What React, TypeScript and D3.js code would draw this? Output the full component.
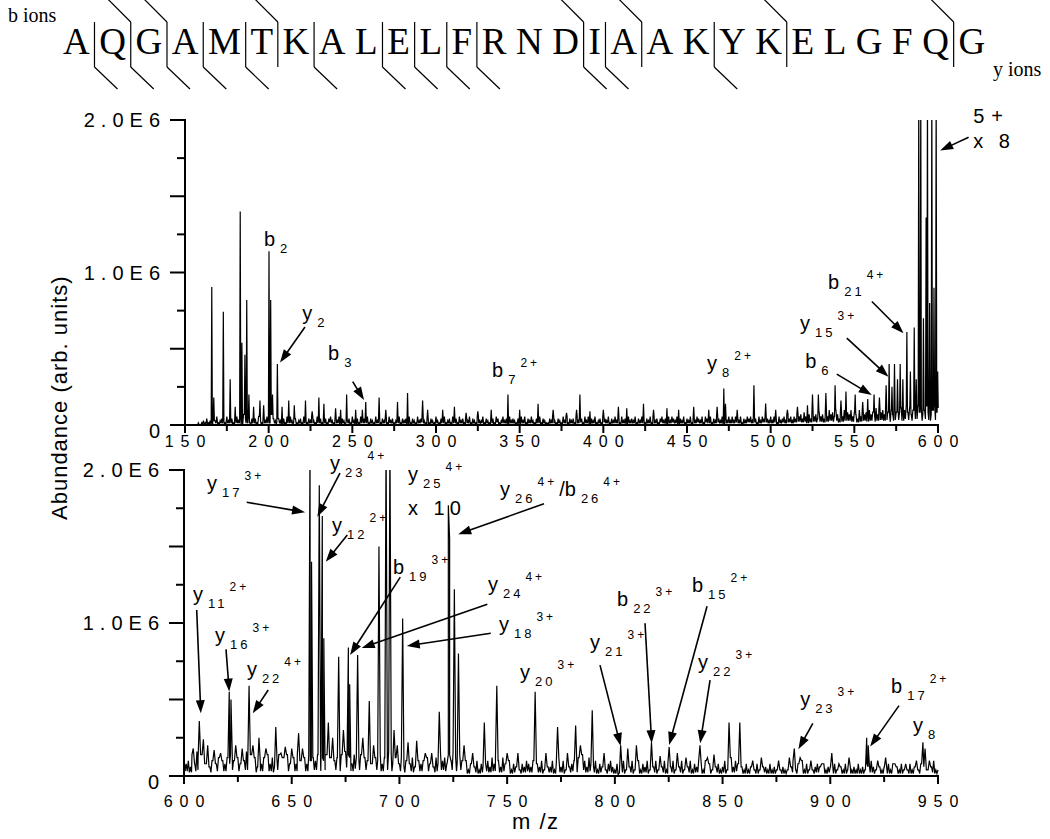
import * as d3 from 'd3';

const SANS = "'Liberation Sans', Arial, Helvetica, sans-serif";
const SERIF = "'Liberation Serif', 'Times New Roman', serif";

// ---- peptide and its fragment cleavages (gap after residue n, 1-based) ----
const sequence = 'AQGAMTKALELFRNDIAAKYKELGFQG'.split('');
const bCuts = [2, 3, 6, 15, 17, 21, 26];
const yCuts = [1, 2, 3, 4, 5, 7, 9, 10, 11, 12, 15, 16, 19];

// ---- axes (abundance in units of 1E6) ----
const abundanceTicks = [0, 0.25, 0.5, 0.75, 1.0, 1.25, 1.5, 1.75, 2.0];
const abundanceLabelled = [0, 1.0, 2.0];
const abundanceLabelText = ['0', '1.0E6', '2.0E6'];

const topMzTicks = [150, 175, 200, 225, 250, 275, 300, 325, 350, 375, 400, 425, 450, 475, 500, 525, 550, 575, 600];
const topMzLabels = [150, 200, 250, 300, 350, 400, 450, 500, 550, 600];
const bottomMzTicks = [600, 625, 650, 675, 700, 725, 750, 775, 800, 825, 850, 875, 900, 925, 950];
const bottomMzLabels = [600, 650, 700, 750, 800, 850, 900, 950];

// ---- spectrum, 150-600 (noise floor per m/z unit as digits, then peaks) ----
const topNoiseStart = 157;
const topNoiseUnit = 0.014;
const topNoise =
  '0101213121' + '3241232142' + '2312423153' + '2413231421' + '3242153213' +
  '2131424213' + '1231421324' + '2142312313' + '4213241321' + '2314213142' +
  '3241321423' + '1323142312' + '2413231413' + '2142342131' + '3214213241' +
  '2314231423' + '1324132142' + '2413212314' + '3124231423' + '2131424132' +
  '4213241321' + '1324213214' + '2413231423' + '3142413241' + '2314324132' +
  '4231423142' + '3241324213' + '2414231342' + '3142432413' + '2413241324' +
  '3241432413' + '2432413242' + '4243241324' + '3424314243' + '4324243142' +
  '3425342435' + '4536425364' + '5364536475' + '6475364756' + '5746537465' +
  '6475648576' + '7586475867' + '6857968578' + '7968579685' + '7968';

const topPeaks: [number, number][] = [
  [166, 0.905], [167.2, 0.18], [172.9, 0.743], [177, 0.3], [180, 0.12], [183, 1.4],
  [184, 0.54], [185.8, 0.46], [186.9, 0.82], [188.2, 0.2], [191, 0.12], [194.8, 0.16],
  [197, 0.13], [200.2, 1.14], [201.2, 0.82], [202.3, 0.2], [205.2, 0.4], [208, 0.12],
  [212, 0.16], [215.3, 0.13], [222, 0.16], [226, 0.09], [230, 0.18], [233, 0.14],
  [240, 0.11], [243, 0.1], [246.6, 0.2], [252, 0.1], [256, 0.1], [258, 0.15],
  [266, 0.18], [270, 0.1], [277, 0.15], [283, 0.21], [292, 0.16], [295, 0.1],
  [304, 0.1], [311, 0.12], [318, 0.08], [325, 0.09], [333, 0.1], [343, 0.2],
  [350, 0.1], [361, 0.14], [370, 0.1], [378, 0.08], [384, 0.1], [386, 0.2],
  [392, 0.09], [400, 0.1], [409, 0.12], [414, 0.11], [424, 0.14], [430, 0.1],
  [438, 0.11], [445, 0.1], [454, 0.12], [463, 0.1], [468, 0.12], [472, 0.24],
  [473, 0.14], [480, 0.1], [490, 0.26], [497, 0.14], [503, 0.1], [510, 0.1],
  [516, 0.12], [522, 0.13], [525, 0.2], [528.5, 0.2], [533, 0.21], [538.5, 0.26],
  [542, 0.16], [545, 0.22], [550.5, 0.2], [555, 0.15], [558, 0.17], [561.8, 0.2],
  [565, 0.18], [569, 0.26], [570.8, 0.4], [572.5, 0.25], [574, 0.4], [575.8, 0.3],
  [577.4, 0.4], [579, 0.3], [581.4, 0.61], [583.5, 0.35], [585.8, 0.64], [587, 0.3],
  [588.5, 2.2], [589.7, 2.2], [591.3, 0.7], [592.9, 1.36], [593.7, 2.2], [595, 0.8],
  [596.3, 2.2], [597.6, 0.9], [598.9, 2.2], [599.8, 0.35],
];

// ---- spectrum, 600-950 ----
const bottomNoiseStart = 600;
const bottomNoiseUnit = 0.02;
const bottomNoise =
  '6453748576' + '4635746354' + '6475364758' + '5746354637' + '4635746574' +
  '5647536475' + '6574657465' + '5647587647' + '6574658476' + '5746587465' +
  '4635746375' + '4536453647' + '5647586475' + '3524635243' + '4536475364' +
  '3524352435' + '4352435243' + '3524635243' + '4536475364' + '3524352453' +
  '2413524352' + '3524352435' + '2435243524' + '3524352435' + '4253425342' +
  '3524635463' + '2423524243' + '3242324232' + '2435243524' + '2323432423' +
  '3242432423' + '2324232435' + '3243232424' + '2324232423' + '3243524352' + '2';

const bottomPeaks: [number, number][] = [
  [604.3, 0.18], [607.1, 0.36], [609, 0.24], [611, 0.2], [614, 0.17], [617, 0.15],
  [621, 0.55], [621.8, 0.5], [624, 0.2], [627, 0.18], [630.2, 0.59], [632, 0.2],
  [634.8, 0.25], [638, 0.18], [642.6, 0.32], [645, 0.15], [647, 0.19], [650, 0.18],
  [653.2, 0.28], [655, 0.18], [658.5, 2.2], [659.2, 1.4], [662.8, 1.9], [664.2, 1.7],
  [664.9, 0.9], [667, 0.35], [669, 0.25], [671.8, 0.78], [674, 0.3], [676.3, 0.84],
  [676.9, 0.6], [680.6, 0.79], [683, 0.25], [686, 0.49], [688, 0.2], [690.5, 1.5],
  [693.8, 2.2], [695.6, 2.2], [697.5, 0.3], [699, 0.2], [701.5, 1.03], [704, 0.22],
  [708, 0.23], [712, 0.15], [715, 0.15], [718.5, 0.42], [722.7, 1.77], [723.3, 1.55],
  [725.5, 1.22], [727.4, 0.8], [730, 0.2], [734, 0.15], [739.4, 0.35], [745.2, 0.59],
  [750, 0.15], [755, 0.15], [763, 0.55], [768, 0.15], [773.4, 0.32], [778, 0.15],
  [781.8, 0.33], [784, 0.2], [789.5, 0.43], [795, 0.15], [802.7, 0.2], [806, 0.18],
  [810, 0.2], [817, 0.22], [821, 0.13], [825.2, 0.19], [829, 0.15], [833, 0.12],
  [839.5, 0.2], [843, 0.12], [846, 0.14], [853, 0.35], [858, 0.35], [864, 0.1],
  [868, 0.12], [876, 0.1], [881, 0.12], [883.3, 0.18], [886, 0.12], [891, 0.1],
  [896, 0.08], [900.7, 0.15], [904, 0.08], [908.7, 0.12], [916.9, 0.25], [917.6, 0.2],
  [922, 0.1], [925.7, 0.12], [930, 0.08], [935, 0.08], [940, 0.1], [943, 0.22],
  [944, 0.18], [946, 0.1],
];

// ---- annotations: [ion, subscript, superscript] parts, anchored at (m/z, abundance) ----
type IonLabel = { parts: string[][]; mz: number; v: number };
type Arrow = { from: [number, number]; to: [number, number] };
type Note = { text: string; mz: number; v: number };

const topIonLabels: IonLabel[] = [
  { parts: [['b', '2', '']], mz: 197.2, v: 1.174 },
  { parts: [['y', '2', '']], mz: 220, v: 0.69 },
  { parts: [['b', '3', '']], mz: 235.5, v: 0.426 },
  { parts: [['b', '7', '2+']], mz: 333.5, v: 0.315 },
  { parts: [['y', '8', '2+']], mz: 462, v: 0.36 },
  { parts: [['b', '6', '']], mz: 520.6, v: 0.374 },
  { parts: [['y', '15', '3+']], mz: 517.6, v: 0.623 },
  { parts: [['b', '21', '4+']], mz: 534.3, v: 0.892 },
];
const topArrows: Arrow[] = [
  { from: [221.7, 0.643], to: [206.8, 0.41] },
  { from: [250.2, 0.284], to: [257, 0.164] },
  { from: [539.5, 0.334], to: [560.4, 0.197] },
  { from: [545.5, 0.57], to: [570.4, 0.317] },
  { from: [560.5, 0.81], to: [579.4, 0.601] },
  { from: [618.3, 1.887], to: [601.3, 1.8] },
];
const topNotes: Note[] = [
  { text: '5+', mz: 621, v: 1.98 },
  { text: 'x 8', mz: 621, v: 1.816 },
];

const bottomIonLabels: IonLabel[] = [
  { parts: [['y', '17', '3+']], mz: 610.7, v: 1.87 },
  { parts: [['y', '23', '4+']], mz: 667.8, v: 2.0 },
  { parts: [['y', '12', '2+']], mz: 668.7, v: 1.595 },
  { parts: [['y', '11', '2+']], mz: 604.2, v: 1.144 },
  { parts: [['y', '16', '3+']], mz: 614.4, v: 0.876 },
  { parts: [['y', '22', '4+']], mz: 629.2, v: 0.654 },
  { parts: [['b', '19', '3+']], mz: 697, v: 1.32 },
  { parts: [['y', '24', '4+']], mz: 741.1, v: 1.209 },
  { parts: [['y', '18', '3+']], mz: 746.2, v: 0.948 },
  { parts: [['y', '25', '4+']], mz: 704, v: 1.928 },
  { parts: [['y', '26', '4+'], ['/b', '26', '4+']], mz: 746.7, v: 1.83 },
  { parts: [['y', '20', '3+']], mz: 756, v: 0.634 },
  { parts: [['y', '21', '3+']], mz: 788.5, v: 0.83 },
  { parts: [['b', '22', '3+']], mz: 801, v: 1.111 },
  { parts: [['b', '15', '2+']], mz: 835.8, v: 1.203 },
  { parts: [['y', '22', '3+']], mz: 838.6, v: 0.7 },
  { parts: [['y', '23', '3+']], mz: 886, v: 0.458 },
  { parts: [['b', '17', '2+']], mz: 928.2, v: 0.543 },
  { parts: [['y', '8', '']], mz: 938.4, v: 0.288 },
];
const bottomArrows: Arrow[] = [
  { from: [629.1, 1.789], to: [656.2, 1.724] },
  { from: [672.4, 1.98], to: [661.9, 1.695] },
  { from: [675.8, 1.575], to: [665.8, 1.4] },
  { from: [605.9, 1.085], to: [607.8, 0.41] },
  { from: [619.5, 0.828], to: [621.0, 0.552] },
  { from: [639.1, 0.562], to: [631.9, 0.41] },
  { from: [700.4, 1.3], to: [677.1, 0.791] },
  { from: [740.8, 1.122], to: [682.5, 0.837] },
  { from: [742.4, 0.933], to: [703.4, 0.85] },
  { from: [767.1, 1.78], to: [727.3, 1.58] },
  { from: [793.1, 0.725], to: [802.7, 0.196] },
  { from: [814.0, 0.998], to: [817.1, 0.214] },
  { from: [842.8, 1.11], to: [825.2, 0.203] },
  { from: [844.2, 0.627], to: [839.6, 0.214] },
  { from: [891.9, 0.344], to: [885.2, 0.175] },
  { from: [931.9, 0.46], to: [918.5, 0.192] },
];
const bottomNotes: Note[] = [{ text: 'x 10', mz: 704, v: 1.706 }];

// Times advance widths (em) for the sequence letters
const timesWidth: Record<string, number> = {
  A: 0.722, Q: 0.722, G: 0.722, M: 0.889, T: 0.611, K: 0.722, L: 0.611,
  E: 0.611, F: 0.556, R: 0.667, N: 0.722, D: 0.722, I: 0.333, Y: 0.722,
};

function buildTrace(start: number, noise: string, unit: number, peaks: [number, number][], hw: number) {
  const level = (mz: number) => {
    const i = Math.max(0, Math.min(noise.length - 1, Math.round(mz - start)));
    return +noise[i] * unit;
  };
  const near = (mz: number) => peaks.some((p) => Math.abs(p[0] - mz) < hw);
  const pts: [number, number][] = [];
  for (let i = 0; i < noise.length; i++) {
    const mz = start + i;
    if (!near(mz)) pts.push([mz, +noise[i] * unit]);
    // dip between two noise readings, so the floor reads as a dense band
    if (i < noise.length - 1 && !near(mz + 0.5)) {
      pts.push([mz + 0.5, Math.min(+noise[i], +noise[i + 1]) * unit * 0.4]);
    }
  }
  for (const [mz, v] of peaks) {
    pts.push([mz - hw, level(mz - hw)], [mz, v], [mz + hw, level(mz + hw)]);
  }
  pts.sort((a, b) => a[0] - b[0]);
  return pts;
}

function ArrowMark({ x1, y1, x2, y2 }: { x1: number; y1: number; x2: number; y2: number }) {
  const L = Math.hypot(x2 - x1, y2 - y1);
  const ux = (x2 - x1) / L;
  const uy = (y2 - y1) / L;
  const hl = 13;
  const hw = 4.5;
  const bx = x2 - ux * hl;
  const by = y2 - uy * hl;
  const head = `${x2},${y2} ${bx - uy * hw},${by + ux * hw} ${bx + uy * hw},${by - ux * hw}`;
  return (
    <g>
      <line x1={x1} y1={y1} x2={bx + ux * 2} y2={by + uy * 2} stroke="#000" strokeWidth={1.6} />
      <polygon points={head} fill="#000" />
    </g>
  );
}

function IonText({ x, y, parts }: { x: number; y: number; parts: string[][] }) {
  const spans: JSX.Element[] = [];
  let cur = 0;
  parts.forEach(([ion, sub, sup], i) => {
    spans.push(
      <tspan key={`i${i}`} fontSize={20} dx={i ? 2 : 0} dy={-cur}>
        {ion}
      </tspan>
    );
    cur = 0;
    if (sub) {
      spans.push(
        <tspan key={`s${i}`} fontSize={13} dx={5} dy={7} letterSpacing={3}>
          {sub}
        </tspan>
      );
      cur = 7;
    }
    if (sup) {
      spans.push(
        <tspan key={`p${i}`} fontSize={12} dx={2} dy={-10 - cur} letterSpacing={3}>
          {sup}
        </tspan>
      );
      cur = -10;
    }
  });
  return (
    <text x={x} y={y} fontFamily={SANS} fill="#000">
      {spans}
    </text>
  );
}

type PanelProps = {
  id: string;
  domain: [number, number];
  xRange: [number, number];
  yRange: [number, number];
  ticks: number[];
  labels: number[];
  labelY: number;
  noiseStart: number;
  noise: string;
  unit: number;
  peaks: [number, number][];
  hw: number;
  ions: IonLabel[];
  arrows: Arrow[];
  notes: Note[];
};

function Panel(p: PanelProps) {
  const x = d3.scaleLinear().domain(p.domain).range(p.xRange);
  const y = d3.scaleLinear().domain([0, 2]).range(p.yRange);
  const pts = buildTrace(p.noiseStart, p.noise, p.unit, p.peaks, p.hw);
  const line = d3
    .line<[number, number]>()
    .x((d) => x(d[0]))
    .y((d) => y(d[1]));
  const x0 = p.xRange[0];
  const [yb, yt] = p.yRange;
  return (
    <g>
      <defs>
        <clipPath id={p.id}>
          <rect x={x0} y={yt} width={p.xRange[1] - x0 + 2} height={yb - yt} />
        </clipPath>
      </defs>
      <path d={line(pts) ?? ''} fill="none" stroke="#000" strokeWidth={1.2} clipPath={`url(#${p.id})`} />

      {/* y axis */}
      <line x1={x0} x2={x0} y1={yt - 1} y2={yb} stroke="#000" strokeWidth={2} />
      {abundanceTicks.map((t) => {
        const long = Math.round(t * 100) % 50 === 0;
        return (
          <line key={t} x1={x0 - (long ? 15 : 8)} x2={x0} y1={y(t)} y2={y(t)} stroke="#000" strokeWidth={2} />
        );
      })}
      {abundanceLabelled.map((t, i) => (
        <text
          key={t}
          x={x0 - 25 + 6}
          y={y(t) + (t === 0 ? 13 : 7)}
          textAnchor="end"
          fontFamily={SANS}
          fontSize={20}
          letterSpacing={6}
        >
          {abundanceLabelText[i]}
        </text>
      ))}

      {/* x axis */}
      <line x1={x0 - 1} x2={p.xRange[1] + 1} y1={yb} y2={yb} stroke="#000" strokeWidth={2} />
      {p.ticks.map((t) => {
        const major = p.labels.includes(t);
        return <line key={t} x1={x(t)} x2={x(t)} y1={yb} y2={yb + (major ? 8 : 6)} stroke="#000" strokeWidth={2} />;
      })}
      {p.labels.map((t) => (
        <text
          key={t}
          x={x(t) + 3.5}
          y={p.labelY}
          textAnchor="middle"
          fontFamily={SANS}
          fontSize={16}
          letterSpacing={7}
        >
          {t}
        </text>
      ))}

      {/* annotations */}
      {p.arrows.map((a, i) => (
        <ArrowMark key={i} x1={x(a.from[0])} y1={y(a.from[1])} x2={x(a.to[0])} y2={y(a.to[1])} />
      ))}
      {p.ions.map((l, i) => (
        <IonText key={i} x={x(l.mz)} y={y(l.v)} parts={l.parts} />
      ))}
      {p.notes.map((n, i) => (
        <text key={i} x={x(n.mz)} y={y(n.v)} fontFamily={SANS} fontSize={20} letterSpacing={n.text === '5+' ? 7 : 5}>
          {n.text}
        </text>
      ))}
    </g>
  );
}

function Sequence() {
  const fs = 37;
  const gap = 9.54;
  let cursor = 63;
  const letterX = sequence.map((c) => {
    const x0 = cursor;
    cursor += timesWidth[c] * fs + gap;
    return x0;
  });
  const cutX = (k: number) => letterX[k] - gap / 2;
  const cuts = Array.from(new Set([...bCuts, ...yCuts]));
  return (
    <g>
      <text x={8} y={22} fontFamily={SERIF} fontSize={20}>
        b ions
      </text>
      <text x={993} y={76} fontFamily={SERIF} fontSize={20}>
        y ions
      </text>
      {sequence.map((c, i) => (
        <text key={i} x={letterX[i]} y={54} fontFamily={SERIF} fontSize={fs}>
          {c}
        </text>
      ))}
      <g stroke="#000" strokeWidth={1.2} fill="none">
        {cuts.map((k) => (
          <line key={`v${k}`} x1={cutX(k)} x2={cutX(k)} y1={22} y2={67} />
        ))}
        {bCuts.map((k) => (
          <line key={`b${k}`} x1={cutX(k) - 23} y1={-1} x2={cutX(k)} y2={22} />
        ))}
        {yCuts.map((k) => (
          <line key={`y${k}`} x1={cutX(k)} y1={67} x2={cutX(k) + 23} y2={89} />
        ))}
      </g>
    </g>
  );
}

export default function App() {
  return (
    <div style={{ position: 'absolute', left: 0, top: 0, background: '#fff' }}>
      <svg width={1050} height={839} viewBox="0 0 1050 839" style={{ display: 'block' }}>
        <rect width={1050} height={839} fill="#fff" />
        <Sequence />
        <Panel
          id="clipTop"
          domain={[150, 600]}
          xRange={[185, 938]}
          yRange={[425, 120]}
          ticks={topMzTicks}
          labels={topMzLabels}
          labelY={447}
          noiseStart={topNoiseStart}
          noise={topNoise}
          unit={topNoiseUnit}
          peaks={topPeaks}
          hw={0.35}
          ions={topIonLabels}
          arrows={topArrows}
          notes={topNotes}
        />
        <Panel
          id="clipBottom"
          domain={[600, 950]}
          xRange={[184, 938]}
          yRange={[776, 470]}
          ticks={bottomMzTicks}
          labels={bottomMzLabels}
          labelY={807}
          noiseStart={bottomNoiseStart}
          noise={bottomNoise}
          unit={bottomNoiseUnit}
          peaks={bottomPeaks}
          hw={0.6}
          ions={bottomIonLabels}
          arrows={bottomArrows}
          notes={bottomNotes}
        />
        <text
          transform="translate(67,520) rotate(-90)"
          fontFamily={SANS}
          fontSize={22}
          letterSpacing={1}
        >
          Abundance (arb. units)
        </text>
        <text x={512} y={829} fontFamily={SANS} fontSize={22} letterSpacing={1.5}>
          m /z
        </text>
      </svg>
    </div>
  );
}
